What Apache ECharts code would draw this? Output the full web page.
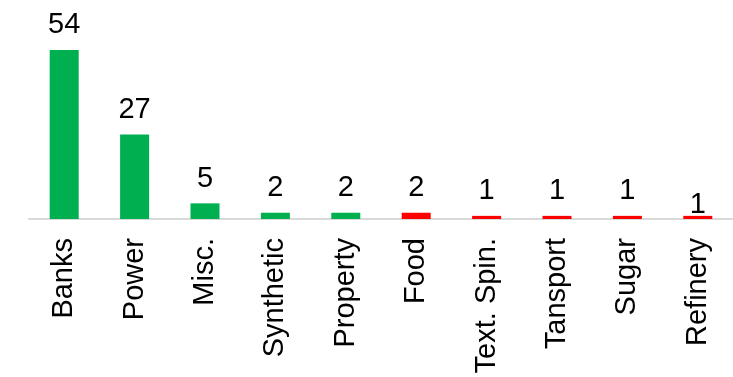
<!DOCTYPE html>
<html>
<head>
<meta charset="utf-8">
<script src="https://cdn.jsdelivr.net/npm/echarts@6/dist/echarts.min.js"></script>
<style>
  html, body { margin: 0; padding: 0; background: #ffffff; }
  #chart { width: 733px; height: 377px; }
</style>
</head>
<body>
<div id="chart"></div>
<script>
// Sectors and their counts
const sectors = ['Banks', 'Power', 'Misc.', 'Synthetic', 'Property', 'Food', 'Text. Spin.', 'Tansport', 'Sugar', 'Refinery'];
const counts = [54, 27, 5, 2, 2, 2, 1, 1, 1, 1];
// Direction of each sector: 1 = positive (green), -1 = negative (red)
const direction = [1, 1, 1, 1, 1, -1, -1, -1, -1, -1];

const GREEN = '#00B050';
const RED = '#FF0000';
const FONT = "'Liberation Sans', Arial, Helvetica, sans-serif";

const barData = counts.map((v, i) => {
  const item = {
    value: v,
    itemStyle: { color: direction[i] > 0 ? GREEN : RED }
  };
  if (sectors[i] === 'Refinery') {
    item.label = { offset: [0, 14] };
  }
  return item;
});

const chart = echarts.init(document.getElementById('chart'), null, { renderer: 'canvas' });
chart.setOption({
  animation: false,
  backgroundColor: '#ffffff',
  grid: { left: 29, width: 705.6, top: 31.2, bottom: 158, containLabel: false },
  xAxis: {
    type: 'category',
    data: sectors,
    offset: 1,
    axisLine: { show: true, lineStyle: { color: '#D9D9D9', width: 2 } },
    axisTick: { show: false },
    axisLabel: {
      rotate: 90,
      interval: 0,
      margin: 18,
      color: '#000000',
      fontSize: 29,
      fontFamily: FONT
    }
  },
  yAxis: {
    type: 'value',
    min: 0,
    max: 60,
    show: false,
    splitLine: { show: false }
  },
  series: [{
    type: 'bar',
    data: barData,
    barWidth: 29,
    label: {
      show: true,
      position: 'top',
      distance: 10,
      color: '#000000',
      fontSize: 29,
      fontFamily: FONT
    }
  }]
});
</script>
</body>
</html>
